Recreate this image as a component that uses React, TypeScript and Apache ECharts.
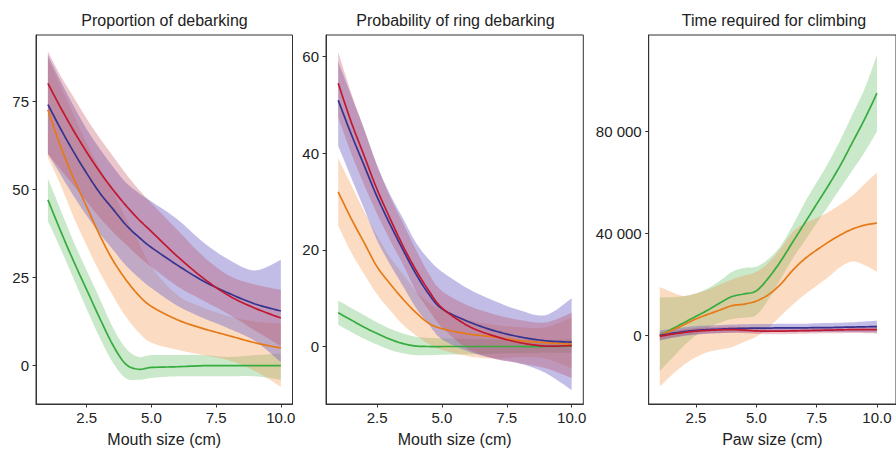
import React, { useEffect, useRef } from "react";
import * as echarts from "echarts";

// x grid for panels 1 and 2 (mouth size, cm)
const X12 = [1, 1.5, 2, 2.5, 3, 3.5, 4, 4.5, 5, 6, 7, 8, 9, 10];
// x grid for panel 3 (paw size, cm)
const X3 = [1, 1.5, 2, 2.5, 3, 3.5, 4, 4.5, 5, 5.5, 6, 6.5, 7, 7.5, 8, 8.5, 9, 9.5, 10];

const TITLES = ["Proportion of debarking", "Probability of ring debarking", "Time required for climbing"];
const XNAMES = ["Mouth size (cm)", "Mouth size (cm)", "Paw size (cm)"];
const XTICKS = [2.5, 5, 7.5, 10];
const YTICKS1 = [0, 25, 50, 75];
const YTICKS2 = [0, 20, 40, 60];
const YTICKS3 = [0, 40000, 80000];

// Panel 1: proportion of debarking
const p1Red = [80, 73, 66.5, 60.5, 55, 50, 45.5, 41.5, 38, 31, 24.8, 19.8, 16.3, 13.5];
const p1RedLo = [60, 55.5, 51, 46.5, 42, 38, 34.5, 31, 28, 22.5, 18.5, 14.5, 10, 5.5];
const p1RedHi = [89, 82, 76, 70, 64.5, 59.5, 54.5, 50, 46, 38.5, 31, 25.5, 23, 21.5];
const p1Blue = [74, 67, 60.5, 54.5, 49, 44.5, 40, 36.5, 33.5, 28.5, 24, 20.5, 17.5, 15.5];
const p1BlueLo = [60, 54, 48, 42.5, 37.5, 33, 28.5, 25, 22, 17, 13.5, 10.5, 7, 1];
const p1BlueHi = [88, 80.5, 73.5, 67, 61.5, 56.5, 52, 49, 46.5, 41.5, 35, 30, 27, 30];
const p1Orange = [72.5, 62, 53, 45, 37, 30, 24.5, 20, 16.8, 13, 10.5, 8.5, 6.5, 5];
const p1OrangeLo = [59, 51, 42, 34, 26.5, 20, 14, 9.5, 6.5, 4.5, 3, 1.5, -1.5, -6];
const p1OrangeHi = [87, 79, 71, 63, 56, 49.5, 42, 35, 28, 20, 16.5, 14, 12.5, 12];
const p1Green = [47, 38, 29.5, 21.5, 13.5, 6, 0.5, -1, -0.5, -0.3, 0, 0, 0, 0];
const p1GreenLo = [41, 33, 24.5, 16, 8, 1, -3.5, -4, -3.5, -3, -3, -3, -3, -4];
const p1GreenHi = [53, 44, 35, 27, 19, 11, 5, 2.5, 3, 3, 3, 2.5, 3, 3.5];

// Panel 2: probability of ring debarking
const p2Red = [54.5, 46.5, 39.5, 32.5, 26.5, 20.8, 15.8, 11.5, 8, 4.3, 2.2, 0.8, 0.1, 0.2];
const p2RedLo = [47.5, 40, 33.5, 27.5, 22, 17, 11.5, 7.5, 4, -0.5, -2.5, -3.5, -4.5, -6.5];
const p2RedHi = [61, 52.5, 45, 37.5, 31, 25.5, 20, 15, 11.5, 8.5, 6.7, 5.5, 5, 7];
const p2Blue = [51, 44, 37.5, 31, 25.3, 20, 15, 10.8, 7.8, 5.2, 3.3, 2, 1.2, 0.9];
const p2BlueLo = [41.5, 35, 28.5, 22, 17, 12.5, 8, 4.5, 1.5, -1, -2.5, -3.5, -5.5, -9];
const p2BlueHi = [59, 52, 45, 37.5, 31.5, 26.5, 21.5, 18, 15.5, 12, 9.5, 7.5, 6.5, 10];
const p2Orange = [32, 26.5, 21.5, 16.5, 13, 9.8, 7, 4.8, 3.7, 2.6, 2, 1.2, 0.8, 0.5];
const p2OrangeLo = [25, 19.5, 15, 10.8, 7.5, 4.5, 2.3, 0.5, -0.7, -2, -2.5, -2.2, -2.5, -4.5];
const p2OrangeHi = [39, 33.5, 28, 23, 18.5, 15, 11.5, 9, 7.5, 5.5, 4.5, 4, 4, 6];
const p2Green = [7, 5.5, 4, 2.7, 1.5, 0.6, 0.1, 0, 0, 0, 0, 0, 0, 0.1];
const p2GreenLo = [4.5, 3, 1.6, 0.4, -0.7, -1.4, -1.8, -1.8, -1.7, -1.6, -1.5, -1.4, -1.3, -1.3];
const p2GreenHi = [9.5, 8, 6.5, 5, 3.7, 2.7, 2, 1.8, 1.7, 1.6, 1.5, 1.4, 1.3, 1.5];

// Panel 3: time required for climbing
const p3Red = [-300, 500, 1200, 1700, 2000, 2200, 2300, 2100, 1800, 1700, 1700, 1800, 1900, 2000, 2100, 2200, 2300, 2300, 2300];
const p3RedLo = [-1800, -800, 0, 500, 800, 1000, 1100, 900, 600, 500, 500, 600, 700, 800, 900, 900, 1000, 900, 800];
const p3RedHi = [1200, 1800, 2400, 2900, 3200, 3400, 3500, 3300, 3000, 2900, 2900, 3000, 3100, 3200, 3300, 3500, 3600, 3700, 3800];
const p3Blue = [0, 800, 1500, 2000, 2300, 2500, 2700, 2800, 2900, 2900, 3000, 3000, 3000, 3100, 3100, 3200, 3300, 3400, 3500];
const p3BlueLo = [-2000, -1000, -200, 300, 700, 900, 1100, 1200, 1300, 1300, 1400, 1400, 1400, 1400, 1400, 1400, 1400, 1300, 1200];
const p3BlueHi = [2000, 2600, 3200, 3700, 3900, 4100, 4300, 4400, 4500, 4500, 4600, 4600, 4600, 4800, 4900, 5000, 5200, 5500, 5800];
const p3Orange = [0, 2000, 4200, 6500, 8300, 10000, 11700, 12300, 13500, 16000, 20000, 25500, 30000, 33500, 36700, 39500, 41800, 43300, 44100];
const p3OrangeLo = [-20000, -15500, -11500, -8500, -6500, -5500, -4500, -2500, -500, 3000, 7500, 12000, 16000, 19500, 23000, 27000, 29000, 27500, 25000];
const p3OrangeHi = [19000, 17000, 15500, 16500, 18000, 20000, 22000, 23500, 25000, 28500, 34000, 40500, 44000, 46000, 48500, 51500, 55000, 59500, 64000];
const p3Green = [0, 2500, 5000, 7500, 10000, 12800, 15300, 16300, 17500, 22500, 29000, 36500, 44000, 51500, 59000, 67000, 76000, 85000, 95000];
const p3GreenLo = [-14000, -9000, -4000, 0, 3000, 5000, 6500, 7000, 8000, 14000, 22000, 30000, 37000, 44000, 51000, 58000, 65000, 72000, 80000];
const p3GreenHi = [15000, 15000, 15500, 16500, 18500, 21500, 25000, 26500, 27000, 30000, 35000, 43000, 52000, 60000, 68000, 77000, 87000, 97000, 110000];

const COLORS: Record<string, string> = {
  red: "#c2182f",
  blue: "#35338f",
  orange: "#e57a17",
  green: "#36ab3e",
};
const BANDS: Record<string, string> = {
  red: "rgba(185,60,75,0.29)",
  blue: "rgba(115,105,200,0.44)",
  orange: "rgba(243,150,72,0.33)",
  green: "rgba(80,180,80,0.3)",
};

const FONT = "'Liberation Sans', Arial, Helvetica, sans-serif";

function fmtThousands(v: number) {
  return String(Math.round(v)).replace(/\B(?=(\d{3})+(?!\d))/g, " ");
}

// Catmull-Rom curve through pixel points (drawing only)
function spline(pts: number[][], steps = 8): number[][] {
  const out: number[][] = [];
  const n = pts.length;
  for (let i = 0; i < n - 1; i++) {
    const p0 = pts[Math.max(0, i - 1)];
    const p1 = pts[i];
    const p2 = pts[i + 1];
    const p3 = pts[Math.min(n - 1, i + 2)];
    for (let s = 0; s < steps; s++) {
      const t = s / steps;
      const t2 = t * t;
      const t3 = t2 * t;
      const f = (a: number, b: number, c: number, d: number) =>
        0.5 * (2 * b + (-a + c) * t + (2 * a - 5 * b + 4 * c - d) * t2 + (-a + 3 * b - 3 * c + d) * t3);
      out.push([f(p0[0], p1[0], p2[0], p3[0]), f(p0[1], p1[1], p2[1], p3[1])]);
    }
  }
  out.push(pts[n - 1]);
  return out;
}

export default function App() {
  const ref = useRef<HTMLDivElement>(null);
  useEffect(() => {
    document.body.style.margin = "0";
    const chart = echarts.init(ref.current!, null, { renderer: "svg" });

    const grids = [
      { left: 36, top: 35, width: 256.5, height: 373 },
      { left: 326, top: 35, width: 257.3, height: 373 },
      { left: 648.7, top: 35, width: 250.5, height: 373.7 },
    ];
    const xRanges = [
      [0.54, 10.45],
      [0.53, 10.45],
      [0.54, 10.79],
    ];
    const yRanges = [
      [-10.85, 93.7],
      [-11.9, 64.5],
      [-26870, 117830],
    ];
    const yTicks = [YTICKS1, YTICKS2, YTICKS3];

    const panels: any[] = [
      {
        x: X12,
        s: [
          ["green", p1Green, p1GreenLo, p1GreenHi],
          ["orange", p1Orange, p1OrangeLo, p1OrangeHi],
          ["blue", p1Blue, p1BlueLo, p1BlueHi],
          ["red", p1Red, p1RedLo, p1RedHi],
        ],
      },
      {
        x: X12,
        s: [
          ["green", p2Green, p2GreenLo, p2GreenHi],
          ["orange", p2Orange, p2OrangeLo, p2OrangeHi],
          ["blue", p2Blue, p2BlueLo, p2BlueHi],
          ["red", p2Red, p2RedLo, p2RedHi],
        ],
      },
      {
        x: X3,
        s: [
          ["green", p3Green, p3GreenLo, p3GreenHi],
          ["orange", p3Orange, p3OrangeLo, p3OrangeHi],
          ["blue", p3Blue, p3BlueLo, p3BlueHi],
          ["red", p3Red, p3RedLo, p3RedHi],
        ],
      },
    ];

    const series: any[] = [];
    panels.forEach((p, g) => {
      // confidence bands
      p.s.forEach((row: any) => {
        const [name, , lo, hi] = row;
        const xs: number[] = p.x;
        series.push({
          type: "custom",
          name: `${name} band ${g + 1}`,
          xAxisIndex: g,
          yAxisIndex: g,
          clip: true,
          silent: true,
          z: 1,
          data: xs.map((x, i) => [x, lo[i], hi[i]]),
          encode: { x: 0, y: [1, 2] },
          renderItem: (params: any, api: any) => {
            if (params.dataIndex !== 0) return null;
            const up = spline(xs.map((x, i) => api.coord([x, hi[i]])));
            const dn = spline(xs.map((x, i) => api.coord([x, lo[i]])));
            const pts = up.concat(dn.reverse());
            return {
              type: "polygon",
              shape: { points: pts },
              style: { fill: BANDS[name], stroke: null },
            };
          },
        });
      });
      // fitted lines on top
      p.s.forEach((row: any) => {
        const [name, mid] = row;
        const xs: number[] = p.x;
        series.push({
          type: "custom",
          name: `${name} ${g + 1}`,
          xAxisIndex: g,
          yAxisIndex: g,
          clip: true,
          silent: true,
          z: 3,
          data: xs.map((x, i) => [x, mid[i]]),
          encode: { x: 0, y: 1 },
          renderItem: (params: any, api: any) => {
            if (params.dataIndex !== 0) return null;
            const pts = spline(xs.map((x, i) => api.coord([x, mid[i]])));
            return {
              type: "polyline",
              shape: { points: pts },
              style: { stroke: COLORS[name], lineWidth: 1.7, fill: null, lineJoin: "round" },
            };
          },
        });
      });
    });

    const axisCommon = {
      axisLine: { show: true, onZero: false, lineStyle: { color: "#333", width: 1 } },
      axisTick: { show: true, inside: false, length: 3.5, lineStyle: { color: "#333", width: 1 } },
      splitLine: { show: false },
      axisLabel: { color: "#222", fontSize: 15, fontFamily: FONT, margin: 6 },
    };

    const option: any = {
      animation: false,
      backgroundColor: "#fff",
      grid: grids.map((g) => ({
        ...g,
        show: true,
        borderColor: "#333",
        borderWidth: 1,
        backgroundColor: "transparent",
        containLabel: false,
      })),
      xAxis: grids.map((_, i) => ({
        type: "value",
        gridIndex: i,
        min: xRanges[i][0],
        max: xRanges[i][1],
        name: XNAMES[i],
        nameLocation: "middle",
        nameGap: 27,
        nameTextStyle: { color: "#222", fontSize: 16, fontFamily: FONT },
        ...axisCommon,
        axisTick: { ...axisCommon.axisTick, customValues: XTICKS },
        axisLabel: {
          ...axisCommon.axisLabel,
          customValues: XTICKS,
          formatter: (v: number) => v.toFixed(1),
        },
      })),
      yAxis: grids.map((_, i) => ({
        type: "value",
        gridIndex: i,
        min: yRanges[i][0],
        max: yRanges[i][1],
        ...axisCommon,
        axisTick: { ...axisCommon.axisTick, customValues: yTicks[i] },
        axisLabel: {
          ...axisCommon.axisLabel,
          margin: 7,
          customValues: yTicks[i],
          formatter: (v: number) => (i === 2 ? fmtThousands(v) : String(v)),
        },
      })),
      graphic: TITLES.map((t, i) => ({
        type: "text",
        x: [164.5, 455.5, 774][i],
        y: 20,
        style: {
          text: t,
          fill: "#222",
          fontSize: 16,
          fontFamily: FONT,
          textAlign: "center",
          textVerticalAlign: "middle",
        },
      })),
      series,
    };
    chart.setOption(option);
    return () => chart.dispose();
  }, []);
  return <div ref={ref} style={{ width: 896, height: 452 }} />;
}
